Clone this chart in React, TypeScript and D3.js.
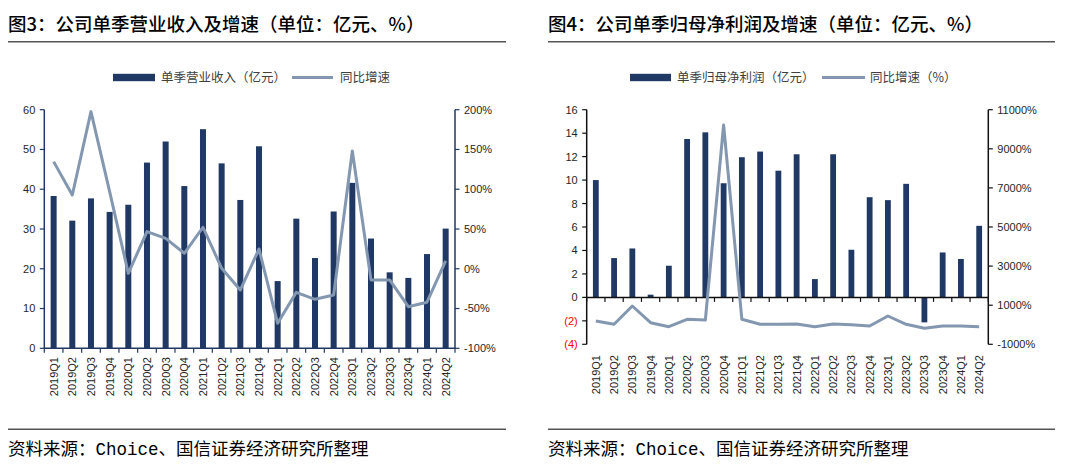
import React from 'react';
import * as d3 from 'd3';

const quarters = [
  '2019Q1', '2019Q2', '2019Q3', '2019Q4',
  '2020Q1', '2020Q2', '2020Q3', '2020Q4',
  '2021Q1', '2021Q2', '2021Q3', '2021Q4',
  '2022Q1', '2022Q2', '2022Q3', '2022Q4',
  '2023Q1', '2023Q2', '2023Q3', '2023Q4',
  '2024Q1', '2024Q2',
];

// 图3: 单季营业收入（亿元）与同比增速（%）
const revenue = [38.3, 32.1, 37.7, 34.3, 36.1, 46.7, 52.0, 40.8, 55.1, 46.5, 37.3, 50.8, 16.9, 32.6, 22.7, 34.4, 41.6, 27.6, 19.1, 17.7, 23.7, 30.1];
const revenueYoY = [134.7, 92.8, 197.6, 97.0, -5.7, 46.7, 38.3, 19.5, 52.2, 0.6, -26.7, 24.9, -68.6, -29.6, -38.4, -33.0, 148.0, -14.0, -14.0, -47.7, -42.0, 9.8];
const revLeftTicks = [0, 10, 20, 30, 40, 50, 60];
const revRightTicks = [-100, -50, 0, 50, 100, 150, 200];

// 图4: 单季归母净利润（亿元）与同比增速（%）
const profit = [10.0, 3.35, 4.17, 0.23, 2.7, 13.5, 14.07, 9.73, 11.95, 12.43, 10.8, 12.2, 1.56, 12.2, 4.06, 8.54, 8.29, 9.68, -2.13, 3.83, 3.27, 6.1];
const profitYoY = [192, 23, 959, 105, -100, 279, 243, 10217, 279, 23, 23, 38, -100, 38, 3, -64, 448, 23, -182, -64, -64, -100];
const profitLeftTicks = [-4, -2, 0, 2, 4, 6, 8, 10, 12, 14, 16];
const profitRightTicks = [-1000, 1000, 3000, 5000, 7000, 9000, 11000];

const BAR = '#203864';
const LINE = '#8497b0';
const CJK = '"Noto Sans CJK SC", "Noto Sans", sans-serif';
const NUM = '"Liberation Sans", Arial, sans-serif';

type PanelProps = {
  x0: number; x1: number; yTop: number; yBot: number;
  leftDomain: [number, number]; rightDomain: [number, number];
  leftTicks: number[]; rightTicks: number[];
  bars: number[]; line: number[];
  axisColor: string; barW: number; labelY: number;
  fmtLeft: (v: number) => string; fmtRight: (v: number) => string;
  leftColor: (v: number) => string;
};

function Panel(p: PanelProps) {
  const x = d3.scaleBand<string>().domain(quarters).range([p.x0, p.x1]).paddingInner(0).paddingOuter(0);
  const bw = x.bandwidth();
  const yL = d3.scaleLinear().domain(p.leftDomain).range([p.yBot, p.yTop]);
  const yR = d3.scaleLinear().domain(p.rightDomain).range([p.yBot, p.yTop]);
  const cx = (i: number) => (x(quarters[i]) as number) + bw / 2;
  const lineGen = d3.line<number>().x((_, i) => cx(i)).y((d) => yR(d));
  const zeroY = yL(0);
  return (
    <g>
      {p.bars.map((v, i) => (
        <rect key={'b' + i} x={cx(i) - p.barW / 2} y={Math.min(yL(v), zeroY)} width={p.barW}
          height={Math.abs(yL(v) - zeroY)} fill={BAR} />
      ))}
      {/* x axis */}
      <line x1={p.x0} x2={p.x1} y1={zeroY} y2={zeroY} stroke={p.axisColor} strokeWidth={1.5} />
      {d3.range(quarters.length + 1).map((i) => {
        const xx = p.x0 + i * bw;
        return <line key={'xt' + i} x1={xx} x2={xx} y1={zeroY} y2={zeroY + 4.5} stroke={p.axisColor} strokeWidth={1.2} />;
      })}
      {quarters.map((q, i) => (
        <text key={'xl' + i} transform={`translate(${cx(i)},${p.labelY}) rotate(-90)`} textAnchor="end" dy="0.36em"
          fontSize={11} fontFamily={NUM} fill="#262626">{q}</text>
      ))}
      {/* left axis */}
      <line x1={p.x0} x2={p.x0} y1={p.yTop} y2={p.yBot} stroke={p.axisColor} strokeWidth={1.5} />
      {p.leftTicks.map((t) => (
        <g key={'lt' + t}>
          <line x1={p.x0 - 4.5} x2={p.x0} y1={yL(t)} y2={yL(t)} stroke={p.axisColor} strokeWidth={1.2} />
          <text x={p.x0 - 9} y={yL(t)} dy="0.36em" textAnchor="end" fontSize={11} fontFamily={NUM}
            fill={p.leftColor(t)}>{p.fmtLeft(t)}</text>
        </g>
      ))}
      {/* right axis */}
      <line x1={p.x1} x2={p.x1} y1={p.yTop} y2={p.yBot} stroke={p.axisColor} strokeWidth={1.5} />
      {p.rightTicks.map((t) => (
        <g key={'rt' + t}>
          <line x1={p.x1} x2={p.x1 + 4.5} y1={yR(t)} y2={yR(t)} stroke={p.axisColor} strokeWidth={1.2} />
          <text x={p.x1 + 9} y={yR(t)} dy="0.36em" textAnchor="start" fontSize={11} fontFamily={NUM}
            fill="#262626">{p.fmtRight(t)}</text>
        </g>
      ))}
      <path d={lineGen(p.line) || ''} fill="none" stroke={LINE} strokeWidth={3} strokeLinejoin="round" />
    </g>
  );
}

function Legend({ rx, tx, lx0, lx1, ltx, barLabel, lineLabel }: { rx: number; tx: number; lx0: number; lx1: number; ltx: number; barLabel: string; lineLabel: string }) {
  return (
    <g>
      <rect x={rx} y={73.8} width={tx - rx - 6} height={7.4} fill={BAR} />
      <text x={tx} y={77.5} dy="0.36em" fontSize={12.5} fontFamily={CJK} fill="#404040">{barLabel}</text>
      <line x1={lx0} x2={lx1} y1={77.5} y2={77.5} stroke={LINE} strokeWidth={3} />
      <text x={ltx} y={77.5} dy="0.36em" fontSize={12.5} fontFamily={CJK} fill="#404040">{lineLabel}</text>
    </g>
  );
}

export default function App() {
  const fmtPct = (v: number) => `${v}%`;
  return (
    <svg width={1080} height={476} style={{ position: 'absolute', left: 0, top: 0, background: '#fff' }}>
      <rect width={1080} height={476} fill="#fff" />
      {/* titles */}
      <text x={8} y={31} fontSize={18.5} fontWeight={500} fontFamily={CJK} fill="#000">图3：公司单季营业收入及增速（单位：亿元、%）</text>
      <text x={548} y={31} fontSize={18.5} fontWeight={500} fontFamily={CJK} fill="#000">图4：公司单季归母净利润及增速（单位：亿元、%）</text>
      <line x1={8} x2={506} y1={41.8} y2={41.8} stroke="#555" strokeWidth={1.6} />
      <line x1={548} x2={1055} y1={41.8} y2={41.8} stroke="#555" strokeWidth={1.6} />

      <Legend rx={113} tx={161} lx0={292} lx1={333} ltx={340} barLabel="单季营业收入（亿元）" lineLabel="同比增速" />
      <Legend rx={630} tx={677} lx0={822} lx1={865} ltx={870} barLabel="单季归母净利润（亿元）" lineLabel="同比增速（%）" />

      <Panel x0={44.3} x1={455} yTop={109.7} yBot={348.3} leftDomain={[0, 60]} rightDomain={[-100, 200]}
        leftTicks={revLeftTicks} rightTicks={revRightTicks} bars={revenue} line={revenueYoY}
        axisColor="#1f3864" barW={6} labelY={357}
        fmtLeft={(v) => `${v}`} fmtRight={fmtPct} leftColor={() => '#262626'} />

      <Panel x0={586.7} x1={988.3} yTop={109.7} yBot={344.3} leftDomain={[-4, 16]} rightDomain={[-1000, 11000]}
        leftTicks={profitLeftTicks} rightTicks={profitRightTicks} bars={profit} line={profitYoY}
        axisColor="#111" barW={5.8} labelY={355}
        fmtLeft={(v) => (v < 0 ? `(${-v})` : `${v}`)} fmtRight={fmtPct}
        leftColor={(v) => (v < 0 ? '#ff0000' : '#262626')} />

      {/* footers */}
      <line x1={8} x2={506} y1={429.3} y2={429.3} stroke="#555" strokeWidth={1.6} />
      <line x1={548} x2={1055} y1={429.3} y2={429.3} stroke="#555" strokeWidth={1.6} />
      <text x={8} y={455} fontSize={17.5} fontFamily={`"Liberation Mono", ${CJK}`} fill="#000">资料来源：Choice、国信证券经济研究所整理</text>
      <text x={548} y={455} fontSize={17.5} fontFamily={`"Liberation Mono", ${CJK}`} fill="#000">资料来源：Choice、国信证券经济研究所整理</text>
    </svg>
  );
}
